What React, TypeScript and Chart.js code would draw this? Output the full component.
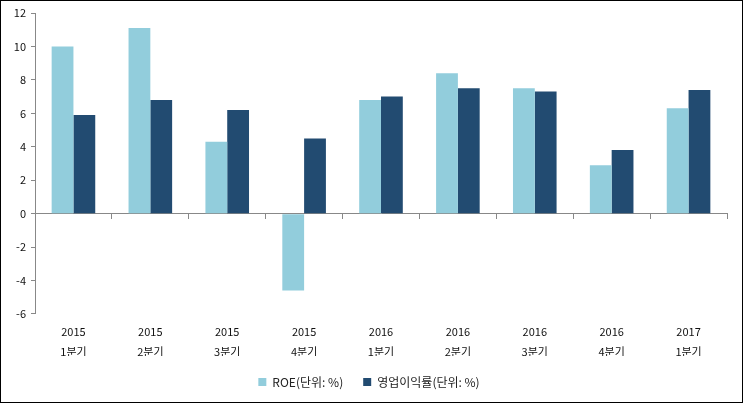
import React, { useEffect, useRef } from "react";
import { Chart, registerables } from "chart.js";

Chart.register(...registerables);

const years = ["2015", "2015", "2015", "2015", "2016", "2016", "2016", "2016", "2017"];
const quarters = ["1분기", "2분기", "3분기", "4분기", "1분기", "2분기", "3분기", "4분기", "1분기"];
const roe = [10.0, 11.1, 4.3, -4.6, 6.8, 8.4, 7.5, 2.9, 6.3];
const opMargin = [5.9, 6.8, 6.2, 4.5, 7.0, 7.5, 7.3, 3.8, 7.4];
const seriesNames = ["ROE(단위: %)", "영업이익률(단위: %)"];
const yTicks = [-6, -4, -2, 0, 2, 4, 6, 8, 10, 12];

const FONT = "'Noto Sans CJK KR', 'Noto Sans', sans-serif";

export default function App() {
  const ref = useRef<HTMLCanvasElement | null>(null);

  useEffect(() => {
    document.body.style.margin = "0";
    const labels = years.map((y, i) => [y, quarters[i]]);
    const chart = new Chart(ref.current as HTMLCanvasElement, {
      type: "bar",
      data: {
        labels,
        datasets: [
          {
            label: seriesNames[0],
            data: roe,
            backgroundColor: "#92CDDC",
            categoryPercentage: 0.567,
            barPercentage: 1,
          },
          {
            label: seriesNames[1],
            data: opMargin,
            backgroundColor: "#224B71",
            categoryPercentage: 0.567,
            barPercentage: 1,
          },
        ],
      },
      options: {
        animation: false,
        responsive: true,
        maintainAspectRatio: false,
        layout: { padding: { left: 10, right: 15, top: 12, bottom: 4 } },
        plugins: {
          tooltip: { enabled: false },
          legend: {
            position: "bottom",
            labels: {
              boxWidth: 8,
              boxHeight: 8,
              padding: 20,
              color: "#222",
              font: { family: FONT, size: 12 },
            },
          },
        },
        scales: {
          x: {
            type: "category",
            grid: { display: false, drawTicks: false },
            border: { display: false },
            afterFit: (s: any) => {
              s.height = s.height - 14;
            },
            ticks: {
              color: "#111",
              padding: 8,
              maxRotation: 0,
              autoSkip: false,
              font: { family: FONT, size: 11, lineHeight: 1.82 },
            },
          },
          x2: {
            type: "category",
            axis: "x",
            position: { y: 0 },
            offset: true,
            grid: {
              offset: true,
              drawOnChartArea: false,
              drawTicks: true,
              tickLength: 5,
              color: "#888",
            },
            border: { display: true, color: "#888", width: 1 },
            ticks: { display: false },
          },
          y: {
            min: -6,
            max: 12,
            afterBuildTicks: (s: any) => {
              s.ticks = yTicks.map((v) => ({ value: v }));
            },
            afterFit: (s: any) => {
              s.width = 24;
            },
            grid: {
              drawOnChartArea: false,
              drawTicks: true,
              tickLength: 4,
              color: "#888",
            },
            border: { display: true, color: "#888", width: 1 },
            ticks: {
              color: "#111",
              padding: 5,
              font: { family: FONT, size: 11 },
            },
          },
        },
      },
    });
    return () => chart.destroy();
  }, []);

  return (
    <div
      style={{
        width: 743,
        height: 403,
        border: "1px solid #000",
        boxSizing: "border-box",
        position: "relative",
        background: "#fff",
      }}
    >
      <canvas ref={ref} />
    </div>
  );
}
